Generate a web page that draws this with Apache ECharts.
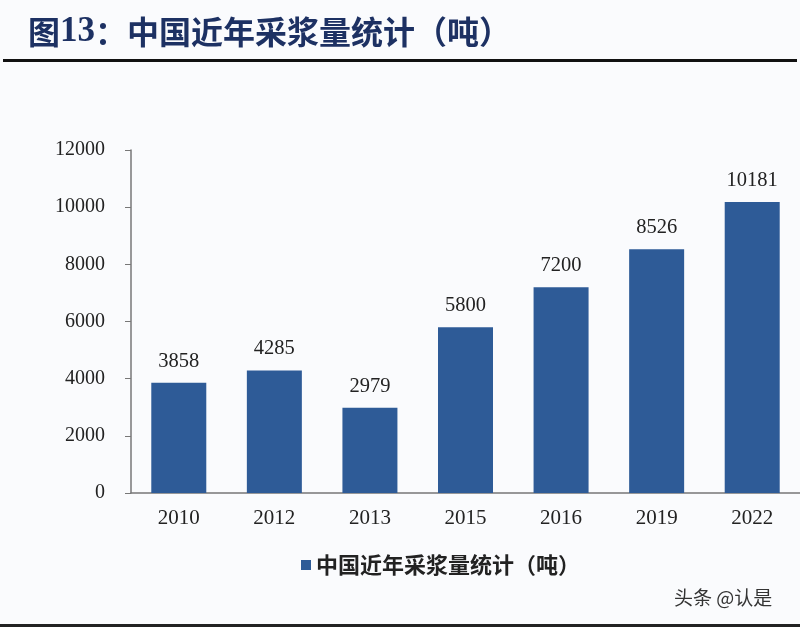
<!DOCTYPE html>
<html>
<head>
<meta charset="utf-8">
<script src="https://cdn.jsdelivr.net/npm/echarts@6/dist/echarts.min.js"></script>
<style>
  html, body { margin: 0; padding: 0; background: #fafbfd; }
  #main { width: 800px; height: 627px; }
</style>
</head>
<body>
<div id="main"></div>
<script>
const years = ['2010', '2012', '2013', '2015', '2016', '2019', '2022']
const plasma = [3858, 4285, 2979, 5800, 7200, 8526, 10181]
const seriesName = '中国近年采浆量统计（吨）'
const yTicks = { min: 0, max: 12000, interval: 2000 }

const chart = echarts.init(document.getElementById('main'))
const serif = '"Liberation Serif", "Times New Roman", serif'
const cjk = '"Noto Sans CJK SC", sans-serif'
const option = {
  backgroundColor: '#fafbfd',
  animation: false,
  title: {
    text: '{a|图}{b|13}{a|：中国近年采浆量统计（吨）}',
    left: 23,
    top: 9,
    textStyle: {
      rich: {
        a: { color: '#1d3163', fontSize: 32, fontWeight: 'bold', fontFamily: cjk },
        b: { color: '#1d3163', fontSize: 35, fontWeight: 'bold', fontFamily: serif }
      }
    }
  },
  graphic: [
    { type: 'rect', shape: { x: 3, y: 59, width: 794, height: 3 }, style: { fill: '#111' } },
    { type: 'rect', shape: { x: 0, y: 624, width: 800, height: 3 }, style: { fill: '#222' } },
    {
      type: 'text', left: 674, top: 588,
      style: { text: '头条 @认是', fill: '#333', fontSize: 19, fontFamily: cjk }
    }
  ],
  legend: {
    data: [seriesName],
    left: 296,
    top: 549,
    icon: 'rect',
    itemWidth: 10,
    itemHeight: 10,
    itemGap: 8,
    textStyle: {
      color: '#222',
      fontSize: 22,
      fontWeight: 'bold',
      fontFamily: cjk
    }
  },
  grid: {
    left: 131,
    right: -3,
    top: 150,
    bottom: 134
  },
  xAxis: {
    type: 'category',
    data: years,
    axisLine: { lineStyle: { color: '#777', width: 1.5 } },
    axisTick: { show: false },
    axisLabel: { color: '#222', fontSize: 21, fontFamily: serif, margin: 15 }
  },
  yAxis: {
    type: 'value',
    min: yTicks.min,
    max: yTicks.max,
    interval: yTicks.interval,
    axisLine: { show: true, lineStyle: { color: '#777', width: 1.5 } },
    axisTick: { show: true, inside: false, length: 6, lineStyle: { color: '#777' } },
    splitLine: { show: false },
    axisLabel: {
      color: '#222', fontSize: 20, fontFamily: serif, margin: 26,
      formatter: v => String(v)
    }
  },
  series: [
    {
      name: seriesName,
      type: 'bar',
      data: plasma,
      barWidth: 55,
      itemStyle: { color: '#2e5b97' },
      label: {
        show: true,
        position: 'top',
        distance: 11,
        color: '#222',
        fontSize: 20.5,
        fontFamily: serif
      }
    }
  ]
}
chart.setOption(option)
</script>
</body>
</html>
